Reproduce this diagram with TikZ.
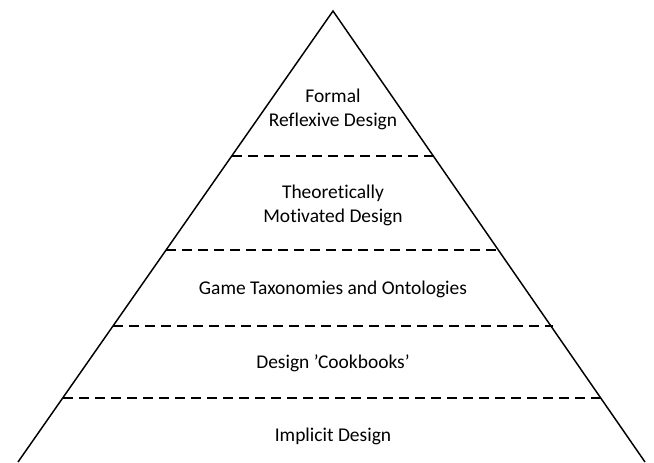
\documentclass[tikz,border=0pt]{standalone}
\usepackage{fontspec}
\setmainfont[Ligatures=NoCommon]{Carlito}
\tikzset{every picture/.style={line width=0.75pt}}
\tikzset{
	level line/.style={dash pattern=on 7.5pt off 4.5pt, line width=1.1pt},
	level text/.style={font=\fontsize{14.6}{18}\selectfont, align=center, inner sep=0pt}}

\begin{document}
\begin{tikzpicture}[x=0.75pt,y=0.75pt,yscale=-1,xscale=1]
	\useasboundingbox (0,0) rectangle (654,462);

	%Shape: Triangle [id:pyramid]
	\draw [line width=1.1pt]  (18,462) -- (333,11) -- (645,462) ;
	%Straight Lines [id:level1]
	\draw [level line]  (232,156) -- (434,156) ;
	%Straight Lines [id:level2]
	\draw [level line]  (166,250) -- (499,250) ;
	%Straight Lines [id:level3]
	\draw [level line]  (113,326) -- (553,326) ;
	%Straight Lines [id:level4]
	\draw [level line]  (63,398) -- (605,398) ;

	% Text Node
	\node [level text] (formal) at (333,109) {Formal\\Reflexive Design};
	% Text Node
	\node [level text] (theory) at (333,205) {Theoretically\\Motivated Design};
	% Text Node
	\node [level text] (taxonomy) at (333,289) {Game Taxonomies and Ontologies};
	% Text Node
	\node [level text] (cookbook) at (333,363) {Design ’Cookbooks’};
	% Text Node
	\node [level text] (implicit) at (333,436) {Implicit Design};

\end{tikzpicture}
\end{document}
